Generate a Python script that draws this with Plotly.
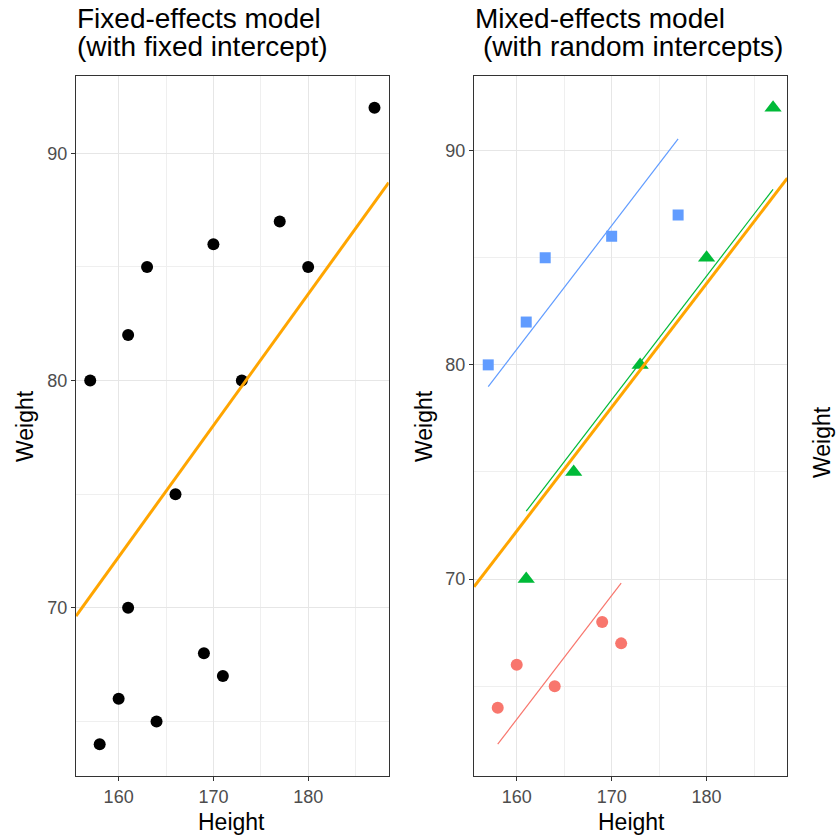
import plotly.graph_objects as go

# ---- data ----
group_names = ["1", "2", "3"]
group_colors = ["#F8766D", "#00BA38", "#619CFF"]
group_symbols = ["circle", "triangle-up", "square"]
group_sizes = [12, 15, 11]

height_g1 = [158, 160, 164, 169, 171]
weight_g1 = [64, 66, 65, 68, 67]
height_g2 = [161, 166, 173, 180, 187]
weight_g2 = [70, 75, 80, 85, 92]
height_g3 = [157, 161, 163, 170, 177]
weight_g3 = [80, 82, 85, 86, 87]

heights = [height_g1, height_g2, height_g3]
weights = [weight_g1, weight_g2, weight_g3]

# model estimates
slope = 0.578
fixed_intercept = -20.24
group_intercepts = [-29.03, -19.89, -11.76]

xticks = [160, 170, 180]
yticks = [70, 80, 90]

# ---- helpers ----
W, H = 838, 835
FONT = "Liberation Sans, Arial, sans-serif"


def px_x(p):
    return p / W


def px_y(p):
    return 1 - p / H


def expand(lo, hi, f=0.05):
    d = (hi - lo) * f
    return [lo - d, hi + d]


all_h = [h for g in heights for h in g]
all_w = [w for g in weights for w in g]
xrange_ = expand(min(all_h), max(all_h))

# fitted lines for mixed model
fit_x = [[min(h), max(h)] for h in heights]
fit_y = [[a + slope * x for x in xs] for a, xs in zip(group_intercepts, fit_x)]

yrange_left = expand(min(all_w), max(all_w))
right_vals = all_w + [v for ys in fit_y for v in ys]
yrange_right = expand(min(right_vals), max(right_vals))

fig = go.Figure()

# left panel
fig.add_trace(go.Scatter(
    x=all_h, y=all_w, mode="markers",
    marker=dict(color="black", size=12, symbol="circle"),
    xaxis="x", yaxis="y", showlegend=False))
fig.add_trace(go.Scatter(
    x=xrange_, y=[fixed_intercept + slope * x for x in xrange_], mode="lines",
    line=dict(color="orange", width=3),
    xaxis="x", yaxis="y", showlegend=False))

# right panel
for i in range(3):
    fig.add_trace(go.Scatter(
        x=heights[i], y=weights[i], mode="markers", name=group_names[i],
        marker=dict(color=group_colors[i], size=group_sizes[i], symbol=group_symbols[i]),
        xaxis="x2", yaxis="y2", showlegend=False))
for i in range(3):
    fig.add_trace(go.Scatter(
        x=fit_x[i], y=fit_y[i], mode="lines",
        line=dict(color=group_colors[i], width=1.2),
        xaxis="x2", yaxis="y2", showlegend=False))
fig.add_trace(go.Scatter(
    x=xrange_, y=[fixed_intercept + slope * x for x in xrange_], mode="lines",
    line=dict(color="orange", width=3),
    xaxis="x2", yaxis="y2", showlegend=False))

axis_common = dict(
    showgrid=True, gridcolor="#E6E6E6", gridwidth=1.2,
    showline=True, linecolor="#333333", linewidth=1.2, mirror=True,
    ticks="outside", ticklen=4, tickcolor="#333333", tickwidth=1.2,
    tickfont=dict(family=FONT, size=18, color="#4D4D4D"),
    zeroline=False,
    minor=dict(showgrid=True, gridcolor="#EFEFEF", gridwidth=0.8, dtick=5, ticks=""),
)

ydom = [px_y(776), px_y(76)]
fig.update_layout(
    width=W, height=H,
    margin=dict(l=0, r=0, t=0, b=0),
    paper_bgcolor="white", plot_bgcolor="white",
    showlegend=False,
    xaxis=dict(domain=[px_x(76), px_x(388.7)], range=xrange_, tickvals=xticks,
               anchor="y", **axis_common),
    yaxis=dict(domain=ydom, range=yrange_left, tickvals=yticks, anchor="x",
               **axis_common),
    xaxis2=dict(domain=[px_x(474), px_x(787.3)], range=xrange_, tickvals=xticks,
                anchor="y2", **axis_common),
    yaxis2=dict(domain=ydom, range=yrange_right, tickvals=yticks, anchor="x2",
                **axis_common),
)
fig.update_xaxes(minor=dict(tick0=155))
fig.update_yaxes(minor=dict(tick0=65))

annots = [
    dict(text="Fixed-effects model", x=px_x(75), y=px_y(18), xanchor="left", yanchor="middle", size=28),
    dict(text="(with fixed intercept)", x=px_x(75), y=px_y(46), xanchor="left", yanchor="middle", size=28),
    dict(text="Mixed-effects model", x=px_x(473), y=px_y(18), xanchor="left", yanchor="middle", size=28),
    dict(text="(with random intercepts)", x=px_x(481), y=px_y(46), xanchor="left", yanchor="middle", size=28),
    dict(text="Height", x=px_x(232), y=px_y(822), xanchor="center", yanchor="middle", size=23),
    dict(text="Height", x=px_x(631), y=px_y(822), xanchor="center", yanchor="middle", size=23),
]
for a in annots:
    fig.add_annotation(text=a["text"], x=a["x"], y=a["y"], xref="paper", yref="paper",
                       xanchor=a["xanchor"], yanchor=a["yanchor"], showarrow=False,
                       font=dict(family=FONT, size=a["size"], color="black"))

for xc, yc in [(25, 426), (424, 426), (822, 442)]:
    fig.add_annotation(text="Weight", x=px_x(xc), y=px_y(yc), xref="paper", yref="paper",
                       xanchor="center", yanchor="middle", textangle=-90, showarrow=False,
                       font=dict(family=FONT, size=23, color="black"))

fig.write_html(
    "out.html",
    config={"displayModeBar": False},
    post_script="document.body.style.margin='0';document.body.style.overflow='hidden';",
)
